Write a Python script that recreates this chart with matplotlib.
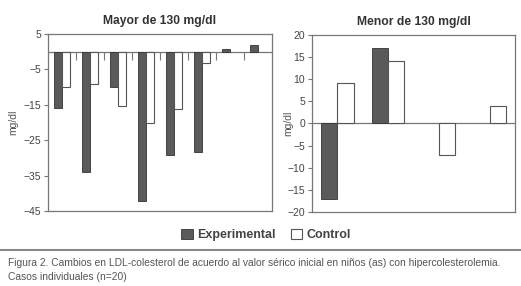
import matplotlib
matplotlib.use("Agg")
import matplotlib.pyplot as plt
import numpy as np

plt.rcParams['font.family'] = ['Liberation Sans', 'DejaVu Sans']

# Data (None = no bar)
left_title = "Mayor de 130 mg/dl"
right_title = "Menor de 130 mg/dl"
left_exp = [-16, -34, -10, -42.3, -29.3, -28.4, 0.85, 1.9]
left_ctrl = [-10, -9.2, -15.2, -20.2, -16.2, -3.1, None, None]
right_exp = [-17, 17, None, None]
right_ctrl = [9, 14, -7.2, 4]
left_yticks = [5, -5, -15, -25, -35, -45]
right_yticks = [20, 15, 10, 5, 0, -5, -10, -15, -20]
ylabel = "mg/dl"
legend_labels = ["Experimental", "Control"]
caption = ("Figura 2. Cambios en LDL-colesterol de acuerdo al valor sérico inicial en niños (as) con hipercolesterolemia.\n"
           "Casos individuales (n=20)")

def arr(v):
    return np.array([np.nan if x is None else x for x in v], dtype=float)

exp_color = "#5a5a5a"
exp_edge = "#333333"
ctrl_edge = "#555555"
frame_color = "#777777"
text_color = "#444444"

fig = plt.figure(figsize=(5.21, 2.86), dpi=100)
fig.patch.set_facecolor("white")

axL = fig.add_axes([48/521, 1-211/286, (272-48)/521, 177/286])
axR = fig.add_axes([312/521, 1-212/286, 203/521, 177.3/286])

def style(ax, yticks, ylim, labx):
    ax.set_ylim(*ylim)
    ax.set_yticks(yticks)
    ax.set_xticks([])
    for s in ax.spines.values():
        s.set_color(frame_color)
        s.set_linewidth(0.9)
    ax.tick_params(axis='y', direction='out', length=3, width=0.8, color=frame_color,
                   labelsize=7.5, labelcolor=text_color, pad=2)
    ax.set_ylabel(ylabel, fontsize=7.5, color="#555555")
    ax.yaxis.set_label_coords(labx, 0.5)
    ax.axhline(0, color=frame_color, lw=0.9, zorder=1)

# Left
xL = np.arange(len(left_exp))
wL = 0.29
axL.bar(xL - wL/2, arr(left_exp), wL, color=exp_color, edgecolor=exp_edge, lw=0.6, zorder=2)
axL.bar(xL + wL/2, arr(left_ctrl), wL, color="white", edgecolor=ctrl_edge, lw=0.8, zorder=2)
axL.set_xlim(-0.5, len(left_exp) - 0.5)
style(axL, left_yticks, (-45, 5), (18-48)/224)
axL.set_title(left_title, fontsize=8.7, fontweight='bold', color="#333333", pad=7)
zero_frac = (0 - (-45)) / 50
sec = axL.secondary_xaxis(zero_frac)
sec.set_xticks(xL[:-1] + 0.5)
sec.set_xticklabels([])
sec.tick_params(axis='x', direction='in', length=6, width=0.8, color=frame_color)
for s in sec.spines.values():
    s.set_visible(False)

# Right
xR = np.arange(len(right_exp))
wR = 0.32
be = axR.bar(xR - wR/2, arr(right_exp), wR, color=exp_color, edgecolor=exp_edge, lw=0.6, zorder=2)
bc = axR.bar(xR + wR/2, arr(right_ctrl), wR, color="white", edgecolor=ctrl_edge, lw=0.8, zorder=2)
axR.set_xlim(-0.5, len(right_exp) - 0.5)
style(axR, right_yticks, (-20, 20), (293-312)/203)
axR.set_title(right_title, fontsize=8.7, fontweight='bold', color="#333333", pad=7)

# Legend
leg = fig.legend([be, bc], legend_labels, loc='center', bbox_to_anchor=(266/521, 1-235/286),
                 ncol=2, frameon=False, handlelength=0.9, handleheight=0.9,
                 handletextpad=0.35, columnspacing=1.2, prop={'weight': 'bold', 'size': 9})
for t in leg.get_texts():
    t.set_color("#444444")

# Separator line
fig.add_artist(plt.Line2D([0, 1], [1-250/286, 1-250/286], color="#888888", lw=1.5,
                          transform=fig.transFigure))

# Caption
fig.text(8/521, 1-258/286, caption, fontsize=7.35, color="#555555", va='top', ha='left',
         linespacing=1.45)

fig.savefig("out.png", dpi=100, facecolor="white")
